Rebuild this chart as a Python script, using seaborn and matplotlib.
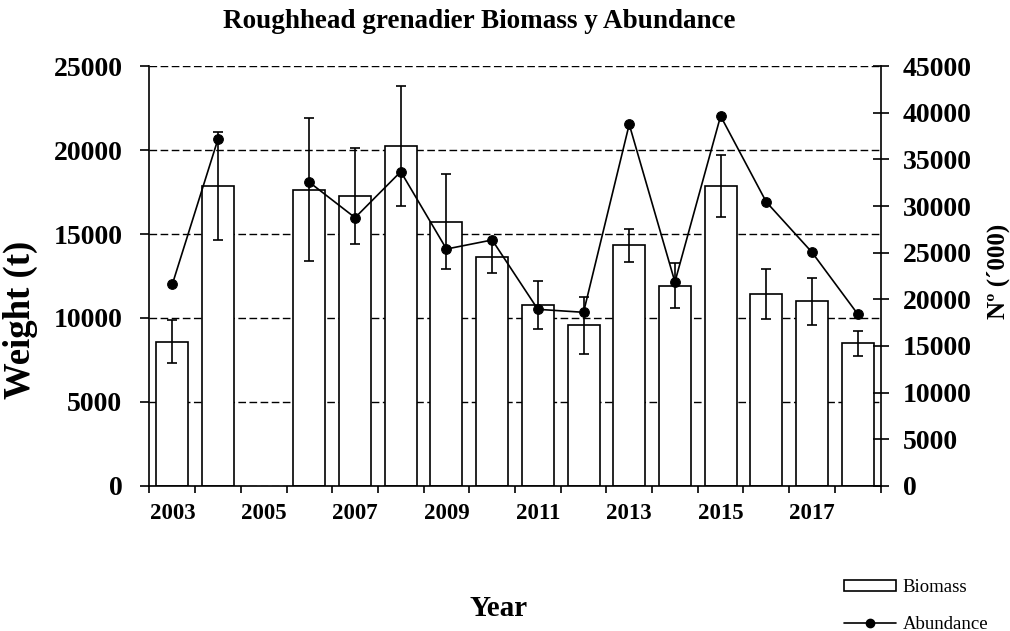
import numpy as np
import pandas as pd
import matplotlib
matplotlib.use("Agg")
import matplotlib.pyplot as plt
from matplotlib.patches import Patch
from matplotlib.lines import Line2D
import seaborn as sns

sns.set_style("white")
plt.rcParams['font.family'] = ['Liberation Serif', 'DejaVu Serif']
for k in ["text.color", "axes.labelcolor", "xtick.color", "ytick.color"]:
    plt.rcParams[k] = "black"

years = [str(y) for y in range(2003, 2019)]
biomass = [8590, 17860, np.nan, 17640, 17280, 20240, 15730, 13610,
           10750, 9560, 14330, 11920, 17860, 11450, 10990, 8490]
biomass_err = [1290, 3200, np.nan, 4260, 2850, 3550, 2840, 950,
               1430, 1710, 990, 1350, 1830, 1480, 1420, 750]
abundance = [21610, 37180, np.nan, 32540, 28750, 33680, 25390, 26360,
             18930, 18610, 38750, 21860, 39640, 30430, 25040, 18430]

df = pd.DataFrame({"year": years, "biomass": biomass, "err": biomass_err,
                   "abundance": abundance})
df["pos"] = np.arange(len(df))
# segment id so the line breaks at the missing year
df["seg"] = df["abundance"].isna().cumsum()

fig = plt.figure(figsize=(10.1, 6.31), dpi=100)
ax = fig.add_axes([0.148, 0.2298, 0.7238, 0.6656])

dfb = df.dropna(subset=["biomass"])
sns.barplot(data=dfb, x="year", y="biomass", order=years, color="white",
            saturation=1, edgecolor="black", linewidth=1.2, width=0.7,
            errorbar=None, ax=ax, zorder=2)
ax.errorbar(dfb["pos"], dfb["biomass"], yerr=dfb["err"], fmt="none",
            ecolor="black", elinewidth=1.2, capsize=3.6, capthick=1.2, zorder=3)

ax.set_xlim(-0.5, 15.5)
ax.set_ylim(0, 25000)
ax.set_yticks(range(0, 25001, 5000))
ax.set_xticks(range(0, 16, 2))
ax.set_xticklabels(years[::2])
ax.set_xticks(np.arange(-0.5, 16, 1), minor=True)
ax.tick_params(axis="x", which="major", length=0, pad=12, labelsize=16.5)
ax.tick_params(axis="x", which="minor", length=5, width=1.2, direction="out",
               bottom=True)
ax.tick_params(axis="y", length=6.5, width=1.2, direction="out", left=True,
               pad=13, labelsize=20)
for lab in ax.get_xticklabels() + ax.get_yticklabels():
    lab.set_fontweight("bold")

ax.set_axisbelow(True)
ax.yaxis.grid(True, color="black", linestyle=(0, (5.5, 2.5)), linewidth=1.0)
ax.xaxis.grid(False)
for s in ["top", "right"]:
    ax.spines[s].set_visible(False)
for s in ["left", "bottom"]:
    ax.spines[s].set_color("black")
    ax.spines[s].set_linewidth(1.2)

ax.set_xlabel("Year", fontsize=21, fontweight="bold")
ax.xaxis.set_label_coords(0.478, -0.26)
ax.set_ylabel("Weight (t)", fontsize=26.5, fontweight="bold")
ax.yaxis.set_label_coords(-0.152, 0.395)

ax2 = ax.twinx()
dfa = df.dropna(subset=["abundance"])
sns.lineplot(data=dfa, x="pos", y="abundance", units="seg", estimator=None,
             color="black", linewidth=1.2, marker="o", markersize=7,
             markeredgecolor="black", ax=ax2, legend=False, zorder=4)
ax2.set_ylim(0, 45000)
ax2.set_yticks(range(0, 45001, 5000))
ax2.tick_params(axis="y", length=12, width=1.2, direction="inout", right=True,
                pad=10, labelsize=20)
for lab in ax2.get_yticklabels():
    lab.set_fontweight("bold")
for s in ["top", "left", "bottom"]:
    ax2.spines[s].set_visible(False)
ax2.spines["right"].set_color("black")
ax2.spines["right"].set_linewidth(1.2)
ax2.set_ylabel("Nº (´000)", fontsize=18, fontweight="bold")
ax2.yaxis.set_label_coords(1.145, 0.51)
ax2.set_xlabel("")

fig.text(479 / 1010, 1 - 28 / 631, "Roughhead grenadier Biomass y Abundance",
         ha="center", va="baseline", fontsize=19.5, fontweight="bold")

handles = [Patch(facecolor="white", edgecolor="black", linewidth=1.2),
           Line2D([], [], color="black", linewidth=1.2, marker="o", markersize=6)]
fig.legend(handles, ["Biomass", "Abundance"], loc="upper left",
           bbox_to_anchor=(0.8356, 1 - 579 / 631), frameon=False, fontsize=13.5,
           handlelength=2.77, handleheight=0.55, handletextpad=0.37,
           labelspacing=1.05, borderpad=0, borderaxespad=0)

fig.savefig("out.png", dpi=100)
